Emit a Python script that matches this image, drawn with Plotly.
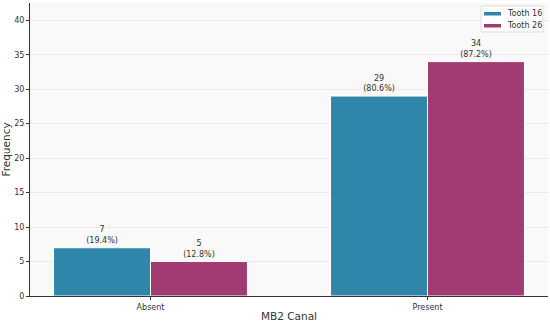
import plotly.graph_objects as go

categories = ["Absent", "Present"]
series_names = ["Tooth 16", "Tooth 26"]
tooth16 = [7, 29]
tooth26 = [5, 34]
pct16 = ["19.4%", "80.6%"]
pct26 = ["12.8%", "87.2%"]
colors = ["#2E86AB", "#A23B72"]

fig = go.Figure()
fig.add_trace(go.Bar(
    x=categories, y=tooth16, name=series_names[0],
    width=0.35, offset=-0.35,
    marker=dict(color=colors[0], line=dict(color="white", width=1)),
    text=[f"{v}<br>({p})" for v, p in zip(tooth16, pct16)],
    textposition="outside", cliponaxis=False,
    textfont=dict(size=8, color="#333333"),
))
fig.add_trace(go.Bar(
    x=categories, y=tooth26, name=series_names[1],
    width=0.35, offset=0,
    marker=dict(color=colors[1], line=dict(color="white", width=1)),
    text=[f"{v}<br>({p})" for v, p in zip(tooth26, pct26)],
    textposition="outside", cliponaxis=False,
    textfont=dict(size=8, color="#333333"),
))

# compact legend box (matplotlib style) in paper coordinates
fig.add_shape(type="rect", xref="paper", yref="paper",
              x0=0.8707, x1=0.9903, y0=0.901, y1=0.9898,
              fillcolor="rgba(255,255,255,0.85)", line=dict(color="#dddddd", width=1))
sw_y = [(0.9573, 0.9693), (0.9164, 0.9283)]
txt_y = [0.9642, 0.9232]
for i, name in enumerate(series_names):
    fig.add_shape(type="rect", xref="paper", yref="paper",
                  x0=0.8764, x1=0.9093, y0=sw_y[i][0], y1=sw_y[i][1],
                  fillcolor=colors[i], line=dict(width=0))
    fig.add_annotation(xref="paper", yref="paper", x=0.9170, y=txt_y[i],
                       text=name, showarrow=False, xanchor="left", yanchor="middle",
                       font=dict(size=8, color="#333333"))

fig.update_layout(
    width=550, height=324,
    margin=dict(l=30, r=2, t=3, b=28, autoexpand=False),
    paper_bgcolor="white", plot_bgcolor="#f9f9f9",
    font=dict(family="DejaVu Sans", size=8, color="#333333"),
    barmode="overlay",
    showlegend=False,
)
fig.update_xaxes(
    type="category", range=[-0.435, 1.435], automargin=False,
    showline=True, linecolor="#333333", linewidth=1,
    ticks="outside", ticklen=3, tickcolor="#333333",
    showgrid=False,
    title=dict(text="MB2 Canal", font=dict(size=10.5), standoff=2),
    tickfont=dict(size=8),
)
fig.update_yaxes(
    range=[0, 42.5], dtick=5, automargin=False,
    showline=True, linecolor="#333333", linewidth=1,
    ticks="outside", ticklen=3, tickcolor="#333333",
    showgrid=True, gridcolor="#ebebeb", gridwidth=1,
    zeroline=False,
    title=dict(text="Frequency", font=dict(size=10.5), standoff=2),
    tickfont=dict(size=8),
)

fig.write_html("out.html", config={"displayModeBar": False},
               post_script="document.body.style.margin='0';document.body.style.overflow='hidden';")
